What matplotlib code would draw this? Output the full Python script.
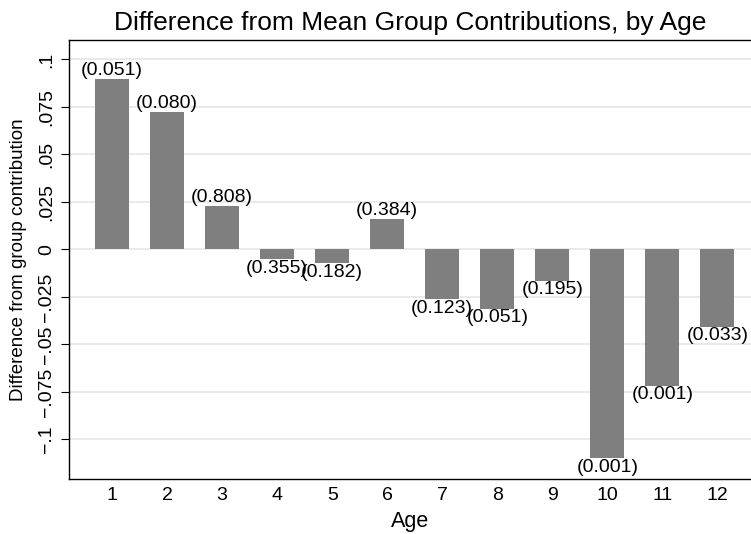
import matplotlib
matplotlib.use("Agg")
import matplotlib.pyplot as plt

plt.rcParams['font.family'] = ['Liberation Sans', 'DejaVu Sans']

ages = [1, 2, 3, 4, 5, 6, 7, 8, 9, 10, 11, 12]
diffs = [0.0895, 0.0724, 0.0229, -0.0051, -0.0074, 0.0159,
         -0.0263, -0.0312, -0.0165, -0.1100, -0.0718, -0.0407]
pvals = ["(0.051)", "(0.080)", "(0.808)", "(0.355)", "(0.182)", "(0.384)",
         "(0.123)", "(0.051)", "(0.195)", "(0.001)", "(0.001)", "(0.033)"]
yticks = [-0.1, -0.075, -0.05, -0.025, 0, 0.025, 0.05, 0.075, 0.1]
ytick_labels = ["\u2212.1", "\u2212.075", "\u2212.05", "\u2212.025", "0",
                ".025", ".05", ".075", ".1"]

fig = plt.figure(figsize=(7.51, 5.34), dpi=100)
ax = fig.add_axes([0.0915, 0.103, 0.9085, 0.823])

ax.bar(ages, diffs, width=0.62, color='#7f7f7f', zorder=3)
for x, y, lab in zip(ages, diffs, pvals):
    if y >= 0:
        ax.text(x, y, lab, ha='center', va='bottom', fontsize=14, zorder=4)
    else:
        ax.text(x, y - 0.0003, lab, ha='center', va='top', fontsize=14, zorder=4)

ax.set_xlim(0.213, 12.61)
ax.set_ylim(-0.1209, 0.1105)
ax.set_xticks(ages)
ax.set_xticklabels([str(a) for a in ages], fontsize=14)
ax.set_yticks(yticks)
ax.set_yticklabels(ytick_labels, fontsize=14, rotation=90, va='center')
ax.tick_params(axis='x', length=0, pad=6)
ax.tick_params(axis='y', length=6, pad=4)
ax.grid(axis='y', color='#e6e6e6', linewidth=1.2, zorder=0)
ax.spines['right'].set_visible(False)
for s in ['left', 'top', 'bottom']:
    ax.spines[s].set_linewidth(1.0)

ax.set_xlabel('Age', fontsize=15.5, labelpad=5)
ax.set_ylabel('Difference from group contribution', fontsize=13.5, labelpad=8)
ax.set_title('Difference from Mean Group Contributions, by Age', fontsize=19, pad=7)

fig.savefig('out.png', dpi=100)
